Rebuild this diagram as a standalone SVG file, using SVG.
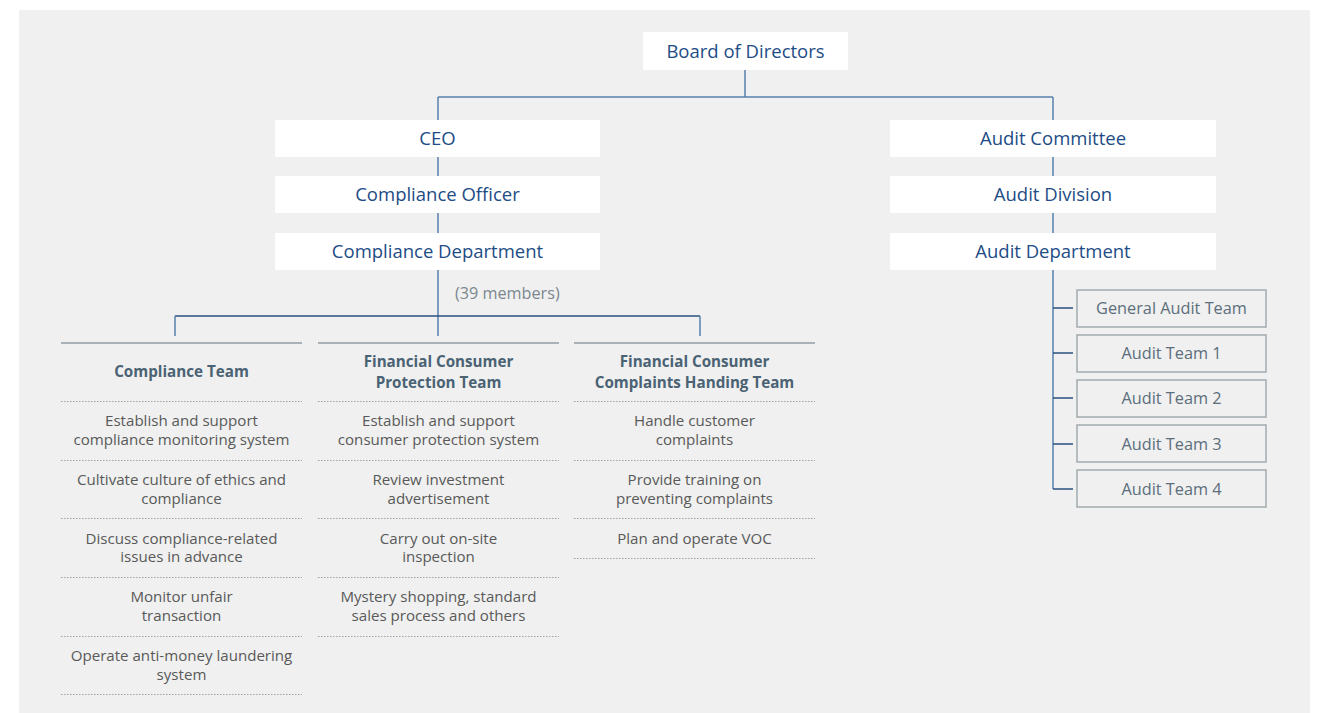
<svg xmlns="http://www.w3.org/2000/svg" width="1319" height="713" viewBox="0 0 1319 713">
<style>
.box{fill:#ffffff}
.t{font-family:"Open Sans","Noto Sans",sans-serif;font-size:18.5px;font-weight:500;fill:#1d4c86;text-anchor:middle}
.h{font-family:"Open Sans","Noto Sans",sans-serif;font-size:15.2px;font-weight:bold;fill:#4a6274;text-anchor:middle}
.i{font-family:"Open Sans","Noto Sans",sans-serif;font-size:15.1px;fill:#595959;text-anchor:middle}
.a{font-family:"Open Sans","Noto Sans",sans-serif;font-size:16.3px;fill:#5c6e7c;text-anchor:middle}
.ab{fill:#eff0ef;stroke:#a3abb1;stroke-width:1.5}
.c{stroke:#5a80ad;stroke-width:1.5;fill:none}
.dk{stroke:#2b5080;stroke-width:1.5;fill:none}
.top{stroke:#a9b1b8;stroke-width:2}
.dot{stroke:#9aa3aa;stroke-width:1;stroke-dasharray:1.5 1.5}
</style>
<rect x="19" y="10" width="1291" height="703" fill="#eff0ef"/>
<g id="connectors">
<path class="c" d="M745 70V97M438 97H1053M438 97V120M1053 97V120"/>
<path class="c" d="M438 157V176M438 213V233M438 270V336"/>
<path class="dk" d="M175 316H700"/>
<path class="c" d="M175 316V336M700 316V336"/>
<path class="c" d="M1053 157V176M1053 213V233M1053 270V489"/>
<path class="dk" d="M1053 308H1073M1053 353H1073M1053 398H1073M1053 444H1073M1053 489H1073"/>
</g>
<g id="board"><rect class="box" x="643" y="32" width="205" height="38"/><text class="t" x="745.5" y="57.5">Board of Directors</text></g>
<g id="ceo"><rect class="box" x="275" y="120" width="325" height="37"/><text class="t" x="437.5" y="145">CEO</text></g>
<g id="compliance-officer"><rect class="box" x="275" y="176" width="325" height="37"/><text class="t" x="437.5" y="201">Compliance Officer</text></g>
<g id="compliance-department"><rect class="box" x="275" y="233" width="325" height="37"/><text class="t" x="437.5" y="258">Compliance Department</text></g>
<text x="455" y="299" font-family="Open Sans, Noto Sans, sans-serif" font-size="16.2" fill="#7c8790">(39 members)</text>
<g id="audit-committee"><rect class="box" x="890" y="120" width="326" height="37"/><text class="t" x="1053" y="145">Audit Committee</text></g>
<g id="audit-division"><rect class="box" x="890" y="176" width="326" height="37"/><text class="t" x="1053" y="201">Audit Division</text></g>
<g id="audit-department"><rect class="box" x="890" y="233" width="326" height="37"/><text class="t" x="1053" y="258">Audit Department</text></g>
<g id="general-audit-team"><rect class="ab" x="1077" y="290" width="189" height="37"/><text class="a" x="1171.5" y="314">General Audit Team</text></g>
<g id="audit-team-1"><rect class="ab" x="1077" y="335" width="189" height="37"/><text class="a" x="1171.5" y="359">Audit Team 1</text></g>
<g id="audit-team-2"><rect class="ab" x="1077" y="380" width="189" height="37"/><text class="a" x="1171.5" y="404">Audit Team 2</text></g>
<g id="audit-team-3"><rect class="ab" x="1077" y="425" width="189" height="37"/><text class="a" x="1171.5" y="450">Audit Team 3</text></g>
<g id="audit-team-4"><rect class="ab" x="1077" y="470" width="189" height="37"/><text class="a" x="1171.5" y="495">Audit Team 4</text></g>
<g id="compliance-team">
<line class="top" x1="61" y1="343" x2="302" y2="343"/>
<text class="h" x="181.5" y="377">Compliance Team</text>
<line class="dot" x1="61" y1="401.5" x2="302" y2="401.5"/>
<text class="i" x="181.5" y="426">Establish and support</text>
<text class="i" x="181.5" y="445">compliance monitoring system</text>
<line class="dot" x1="61" y1="460.5" x2="302" y2="460.5"/>
<text class="i" x="181.5" y="485">Cultivate culture of ethics and</text>
<text class="i" x="181.5" y="504">compliance</text>
<line class="dot" x1="61" y1="518.5" x2="302" y2="518.5"/>
<text class="i" x="181.5" y="544">Discuss compliance-related</text>
<text class="i" x="181.5" y="562">issues in advance</text>
<line class="dot" x1="61" y1="577.5" x2="302" y2="577.5"/>
<text class="i" x="181.5" y="602">Monitor unfair</text>
<text class="i" x="181.5" y="621">transaction</text>
<line class="dot" x1="61" y1="636.5" x2="302" y2="636.5"/>
<text class="i" x="181.5" y="661">Operate anti-money laundering</text>
<text class="i" x="181.5" y="680">system</text>
<line class="dot" x1="61" y1="694.5" x2="302" y2="694.5"/>
</g>
<g id="protection-team">
<line class="top" x1="318" y1="343" x2="559" y2="343"/>
<text class="h" x="438.5" y="367">Financial Consumer</text>
<text class="h" x="438.5" y="388">Protection Team</text>
<line class="dot" x1="318" y1="401.5" x2="559" y2="401.5"/>
<text class="i" x="438.5" y="426">Establish and support</text>
<text class="i" x="438.5" y="445">consumer protection system</text>
<line class="dot" x1="318" y1="460.5" x2="559" y2="460.5"/>
<text class="i" x="438.5" y="485">Review investment</text>
<text class="i" x="438.5" y="504">advertisement</text>
<line class="dot" x1="318" y1="518.5" x2="559" y2="518.5"/>
<text class="i" x="438.5" y="544">Carry out on-site</text>
<text class="i" x="438.5" y="562">inspection</text>
<line class="dot" x1="318" y1="577.5" x2="559" y2="577.5"/>
<text class="i" x="438.5" y="602">Mystery shopping, standard</text>
<text class="i" x="438.5" y="621">sales process and others</text>
<line class="dot" x1="318" y1="636.5" x2="559" y2="636.5"/>
</g>
<g id="complaints-team">
<line class="top" x1="574" y1="343" x2="815" y2="343"/>
<text class="h" x="694.5" y="367">Financial Consumer</text>
<text class="h" x="694.5" y="388">Complaints Handing Team</text>
<line class="dot" x1="574" y1="401.5" x2="815" y2="401.5"/>
<text class="i" x="694.5" y="426">Handle customer</text>
<text class="i" x="694.5" y="445">complaints</text>
<line class="dot" x1="574" y1="460.5" x2="815" y2="460.5"/>
<text class="i" x="694.5" y="485">Provide training on</text>
<text class="i" x="694.5" y="504">preventing complaints</text>
<line class="dot" x1="574" y1="518.5" x2="815" y2="518.5"/>
<text class="i" x="694.5" y="544">Plan and operate VOC</text>
<line class="dot" x1="574" y1="558.5" x2="815" y2="558.5"/>
</g>
</svg>
